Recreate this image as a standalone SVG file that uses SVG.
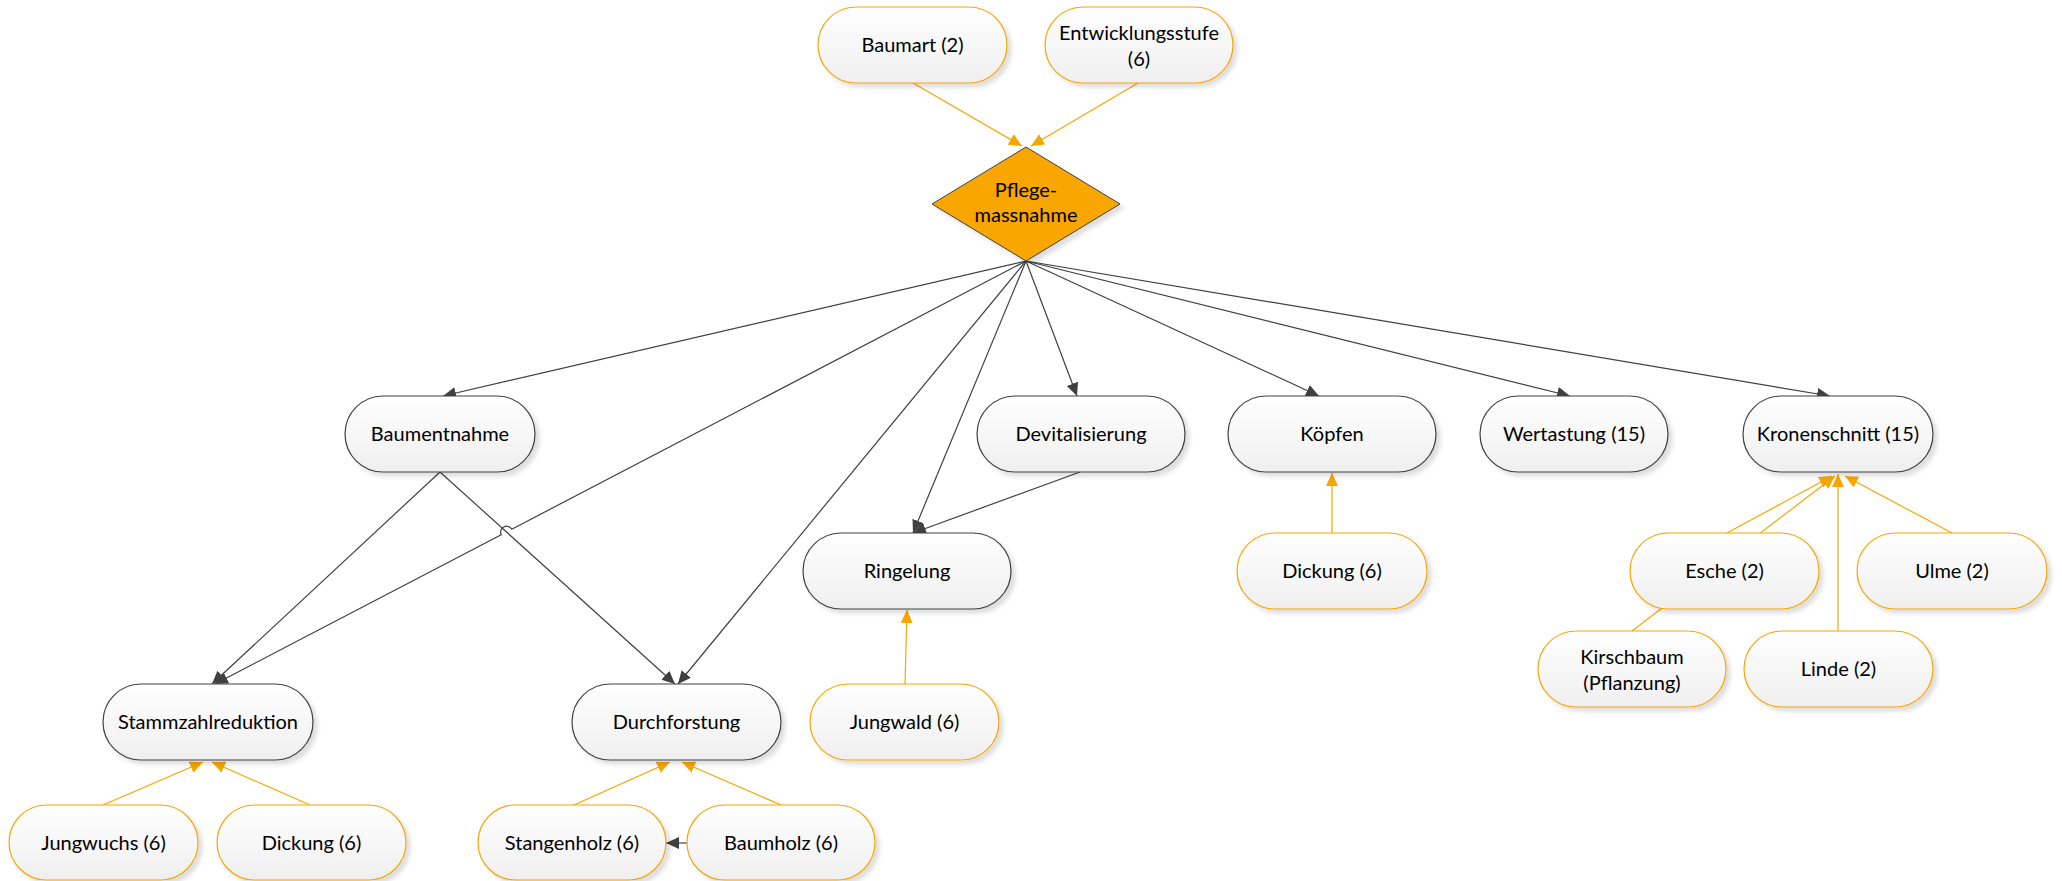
<svg xmlns="http://www.w3.org/2000/svg" width="2062" height="881" viewBox="0 0 2062 881">
<style>
  .node rect { stroke-width: 1.2; fill: url(#g); filter: url(#sh); }
  .dark rect { stroke: #404040; }
  .org rect { stroke: #F7A600; }
  text { font-family: Lato, "Liberation Sans", sans-serif; font-size: 20px; fill: #000; text-anchor: middle; }
  .c { fill: none; stroke-width: 1.2; }
  .k { stroke: #404040; }
  .o { stroke: #F7A600; }
</style>
<defs>
  <linearGradient id="g" x1="0" y1="0" x2="0" y2="1">
    <stop offset="0" stop-color="#FFFFFF"/>
    <stop offset="1" stop-color="#EFEFEF"/>
  </linearGradient>
  <filter id="sh" x="-10%" y="-10%" width="130%" height="140%">
    <feGaussianBlur in="SourceAlpha" stdDeviation="2"/>
    <feOffset dx="4" dy="4" result="b"/>
    <feFlood flood-color="#000" flood-opacity="0.13"/>
    <feComposite in2="b" operator="in"/>
    <feMerge><feMergeNode/><feMergeNode in="SourceGraphic"/></feMerge>
  </filter>
  <marker id="ak" markerUnits="userSpaceOnUse" markerWidth="16" markerHeight="14" refX="13" refY="6" orient="auto">
    <path d="M0,0 L13,6 L0,12 Z" fill="#404040"/>
  </marker>
  <marker id="ao" markerUnits="userSpaceOnUse" markerWidth="16" markerHeight="14" refX="13" refY="6" orient="auto">
    <path d="M0,0 L13,6 L0,12 Z" fill="#F7A600"/>
  </marker>
</defs>
<rect width="2062" height="881" fill="#FFFFFF"/>

<g id="connectors">
  <path class="c k" marker-end="url(#ak)" d="M1026,261 L443,396"/>
  <path class="c k" marker-end="url(#ak)" d="M1026,261 L511.8,529.2 A6,6 0 0 0 501.2,534.8 L215,684"/>
  <path class="c k" marker-end="url(#ak)" d="M1026,261 L678,684"/>
  <path class="c k" marker-end="url(#ak)" d="M1026,261 L913,533"/>
  <path class="c k" marker-end="url(#ak)" d="M1026,261 L1077,396"/>
  <path class="c k" marker-end="url(#ak)" d="M1026,261 L1319,396"/>
  <path class="c k" marker-end="url(#ak)" d="M1026,261 L1570,396"/>
  <path class="c k" marker-end="url(#ak)" d="M1026,261 L1830,396"/>
  <path class="c k" marker-end="url(#ak)" d="M440,472 L212,684"/>
  <path class="c k" marker-end="url(#ak)" d="M440,472 L675,684"/>
  <path class="c k" marker-end="url(#ak)" d="M1080,472 L913,533"/>
  <path class="c k" marker-end="url(#ak)" d="M687,843 L666,843"/>

  <path class="c o" marker-end="url(#ao)" d="M913,83 L1022,146"/>
  <path class="c o" marker-end="url(#ao)" d="M1138,83 L1031,146"/>
  <path class="c o" marker-end="url(#ao)" d="M103,805 L203,762"/>
  <path class="c o" marker-end="url(#ao)" d="M310,805 L212,762"/>
  <path class="c o" marker-end="url(#ao)" d="M574,805 L670,762"/>
  <path class="c o" marker-end="url(#ao)" d="M781,805 L682,762"/>
  <path class="c o" marker-end="url(#ao)" d="M905,684 L907,610"/>
  <path class="c o" marker-end="url(#ao)" d="M1332,533 L1332,473"/>
  <path class="c o" marker-end="url(#ao)" d="M1727,533 L1832,476"/>
  <path class="c o" marker-end="url(#ao)" d="M1632,631 L1835,476"/>
  <path class="c o" marker-end="url(#ao)" d="M1838,631 L1838,474"/>
  <path class="c o" marker-end="url(#ao)" d="M1952,533 L1845,476"/>
</g>

<g id="baumart" class="node org"><rect x="818" y="7" width="189" height="76" rx="38"/><text x="912.5" y="52">Baumart (2)</text></g>
<g id="entwicklungsstufe" class="node org"><rect x="1045" y="7" width="188" height="76" rx="38"/><text x="1139" y="40">Entwicklungsstufe</text><text x="1139" y="66">(6)</text></g>

<g id="pflegemassnahme">
  <polygon points="1026,147 1120,204 1026,261 932,204" fill="#F9A602" stroke="#404040" stroke-width="1" filter="url(#sh)"/>
  <text x="1026" y="197">Pflege-</text>
  <text x="1026" y="222">massnahme</text>
</g>

<g id="baumentnahme" class="node dark"><rect x="345" y="396" width="190" height="76" rx="38"/><text x="440" y="441">Baumentnahme</text></g>
<g id="devitalisierung" class="node dark"><rect x="977" y="396" width="208" height="76" rx="38"/><text x="1081" y="441">Devitalisierung</text></g>
<g id="koepfen" class="node dark"><rect x="1228" y="396" width="208" height="76" rx="38"/><text x="1332" y="441">Köpfen</text></g>
<g id="wertastung" class="node dark"><rect x="1480" y="396" width="188" height="76" rx="38"/><text x="1574" y="441">Wertastung (15)</text></g>
<g id="kronenschnitt" class="node dark"><rect x="1743" y="396" width="190" height="76" rx="38"/><text x="1838" y="441">Kronenschnitt (15)</text></g>

<g id="ringelung" class="node dark"><rect x="803" y="533" width="208" height="76" rx="38"/><text x="907" y="578">Ringelung</text></g>
<g id="dickung-koepfen" class="node org"><rect x="1237" y="533" width="190" height="76" rx="38"/><text x="1332" y="578">Dickung (6)</text></g>
<g id="esche" class="node org"><rect x="1630" y="533" width="189" height="76" rx="38"/><text x="1724.5" y="578">Esche (2)</text></g>
<g id="ulme" class="node org"><rect x="1857" y="533" width="190" height="76" rx="38"/><text x="1952" y="578">Ulme (2)</text></g>
<g id="kirschbaum" class="node org"><rect x="1538" y="631" width="188" height="76" rx="38"/><text x="1632" y="664">Kirschbaum</text><text x="1632" y="690">(Pflanzung)</text></g>
<g id="linde" class="node org"><rect x="1744" y="631" width="189" height="76" rx="38"/><text x="1838.5" y="676">Linde (2)</text></g>

<g id="stammzahlreduktion" class="node dark"><rect x="103" y="684" width="210" height="76" rx="38"/><text x="208" y="729">Stammzahlreduktion</text></g>
<g id="durchforstung" class="node dark"><rect x="572" y="684" width="209" height="76" rx="38"/><text x="676.5" y="729">Durchforstung</text></g>
<g id="jungwald" class="node org"><rect x="810" y="684" width="189" height="76" rx="38"/><text x="904.5" y="729">Jungwald (6)</text></g>

<g id="jungwuchs" class="node org"><rect x="9" y="805" width="189" height="75" rx="37.5"/><text x="103.5" y="850">Jungwuchs (6)</text></g>
<g id="dickung-stammzahl" class="node org"><rect x="217" y="805" width="189" height="75" rx="37.5"/><text x="311.5" y="850">Dickung (6)</text></g>
<g id="stangenholz" class="node org"><rect x="478" y="805" width="188" height="75" rx="37.5"/><text x="572" y="850">Stangenholz (6)</text></g>
<g id="baumholz" class="node org"><rect x="687" y="805" width="188" height="75" rx="37.5"/><text x="781" y="850">Baumholz (6)</text></g>
</svg>
